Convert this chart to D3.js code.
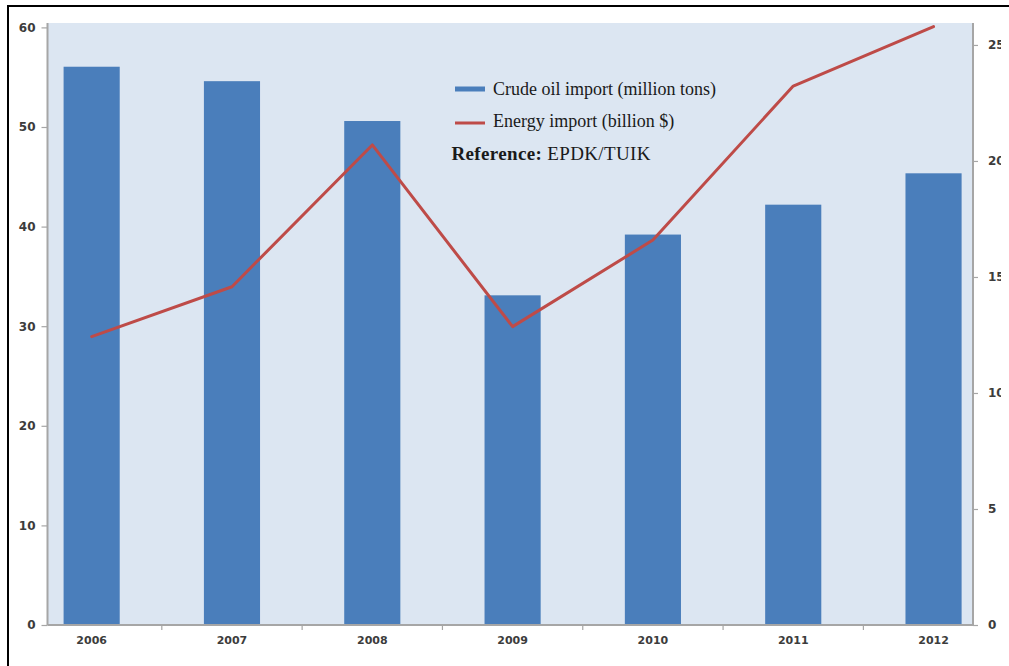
<!DOCTYPE html>
<html>
<head>
<meta charset="utf-8">
<script src="https://cdn.jsdelivr.net/npm/d3@7/dist/d3.min.js"></script>
<style>
  html, body { margin: 0; padding: 0; background: #ffffff; }
  svg { display: block; }
</style>
</head>
<body>
<svg id="chart" width="1009" height="666"></svg>
<script>
// Turkey: crude oil imports (million tons) and energy imports (billion $)
const years = ["2006", "2007", "2008", "2009", "2010", "2011", "2012"];
const crudeOil = [56.05, 54.6, 50.6, 33.1, 39.2, 42.2, 45.35];
const energyImport = [12.43, 14.58, 20.69, 12.86, 16.59, 23.23, 25.79];
const leftTicks = [0, 10, 20, 30, 40, 50, 60];
const rightTicks = [0, 5, 10, 15, 20, 25];
const legendLabels = ["Crude oil import (million tons)", "Energy import (billion $)"];
const sourceLabel = ["Reference:", " EPDK/TUIK"];

const svg = d3.select("#chart");

const plot = { left: 47.5, right: 973, top: 23, bottom: 625 };

const x = d3.scaleBand()
  .domain(years)
  .range([21.5, 1003.7])
  .paddingInner(0.6)
  .paddingOuter(0.3);

const yLeft = d3.scaleLinear().domain([0, 60.24]).range([plot.bottom, 25]);
const yRight = d3.scaleLinear().domain([0, 25.86]).range([plot.bottom, 25]);

// frame
svg.append("path")
  .attr("d", `M8,670 L8,6 L1015,6`)
  .attr("fill", "none")
  .attr("stroke", "#000")
  .attr("stroke-width", 2);

// plot background
svg.append("rect")
  .attr("x", plot.left)
  .attr("y", plot.top)
  .attr("width", plot.right - plot.left)
  .attr("height", plot.bottom - plot.top)
  .attr("fill", "#dce6f2");

// bars
svg.append("g").selectAll("rect")
  .data(years)
  .join("rect")
  .attr("x", d => x(d))
  .attr("width", x.bandwidth())
  .attr("y", (d, i) => yLeft(crudeOil[i]))
  .attr("height", (d, i) => yLeft(0) - yLeft(crudeOil[i]))
  .attr("fill", "#4a7ebb");

// line
const line = d3.line()
  .x((d, i) => x(years[i]) + x.bandwidth() / 2)
  .y(d => yRight(d));

svg.append("path")
  .datum(energyImport)
  .attr("d", line)
  .attr("fill", "none")
  .attr("stroke", "#be4b48")
  .attr("stroke-width", 3)
  .attr("stroke-linejoin", "round")
  .attr("stroke-linecap", "round");

const axisColor = "#a6a6a6";
const labelColor = "#3c3c3c";
const tickFont = "DejaVu Sans, sans-serif";

function styleAxis(g) {
  g.selectAll(".domain").attr("stroke", axisColor).attr("stroke-width", 2);
  g.selectAll(".tick line").attr("stroke", axisColor).attr("stroke-width", 1.2);
  g.selectAll(".tick text")
    .attr("fill", labelColor)
    .attr("font-family", tickFont)
    .attr("font-size", 12)
    .attr("font-weight", "bold");
}

// left axis
const gLeft = svg.append("g")
  .attr("transform", `translate(${plot.left},0)`)
  .call(d3.axisLeft(yLeft).tickValues(leftTicks).tickSize(6).tickSizeOuter(0).tickPadding(6));
gLeft.select(".domain").attr("d", `M0,${plot.top}V${plot.bottom}`);
styleAxis(gLeft);

// right axis (labels cut at the page edge)
svg.append("defs").append("clipPath").attr("id", "rightClip")
  .append("rect").attr("x", 0).attr("y", 0).attr("width", 1001).attr("height", 666);

const gRight = svg.append("g")
  .attr("clip-path", "url(#rightClip)")
  .append("g")
  .attr("transform", `translate(${plot.right},0)`)
  .call(d3.axisRight(yRight).tickValues(rightTicks).tickSize(5).tickSizeOuter(0).tickPadding(10));
gRight.select(".domain").attr("d", `M0,${plot.top}V${plot.bottom}`);
styleAxis(gRight);

// bottom axis: ticks at category boundaries
const gBottom = svg.append("g")
  .attr("transform", `translate(0,${plot.bottom})`)
  .call(d3.axisBottom(x).tickSize(0).tickPadding(11));
gBottom.select(".domain").attr("d", `M${plot.left},0H${plot.right}`);
styleAxis(gBottom);
gBottom.selectAll(".tick text").attr("font-size", 11);
gBottom.selectAll(".boundary")
  .data(years.slice(1))
  .join("line")
  .attr("class", "boundary")
  .attr("x1", d => x(d) - x.step() * x.paddingInner() / 2)
  .attr("x2", d => x(d) - x.step() * x.paddingInner() / 2)
  .attr("y1", 0)
  .attr("y2", 5)
  .attr("stroke", axisColor)
  .attr("stroke-width", 1.2);

// legend
const legend = svg.append("g").attr("font-family", "Liberation Serif, Times New Roman, serif");
legend.append("rect")
  .attr("x", 455).attr("y", 86.5).attr("width", 30).attr("height", 5)
  .attr("fill", "#4a7ebb");
legend.append("line")
  .attr("x1", 455).attr("x2", 485).attr("y1", 123).attr("y2", 123)
  .attr("stroke", "#be4b48").attr("stroke-width", 3);
legend.selectAll("text.item")
  .data(legendLabels)
  .join("text")
  .attr("class", "item")
  .attr("x", 493)
  .attr("y", (d, i) => 95 + i * 32)
  .attr("font-size", 18)
  .attr("fill", "#1a1a1a")
  .text(d => d);

const src = legend.append("text")
  .attr("x", 451.5)
  .attr("y", 160)
  .attr("font-size", 19)
  .attr("letter-spacing", 0.35)
  .attr("fill", "#1a1a1a");
src.append("tspan").attr("font-weight", "bold").text(sourceLabel[0]);
src.append("tspan").text(sourceLabel[1]);
</script>
</body>
</html>
